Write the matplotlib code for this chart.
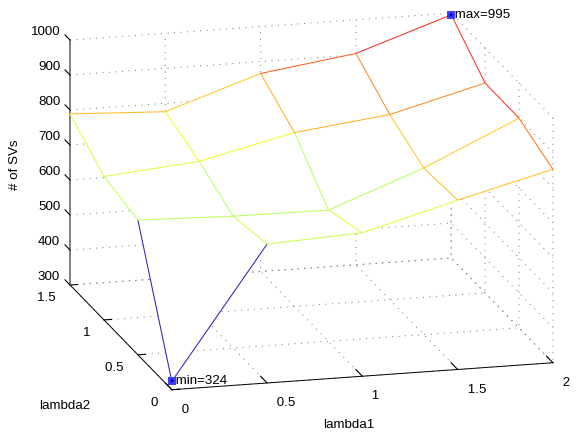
import numpy as np
import matplotlib
matplotlib.use('Agg')
from matplotlib import pyplot as plt
from mpl_toolkits.mplot3d.art3d import Line3DCollection

lambda1 = [0, 0.5, 1, 1.5, 2]
lambda2 = [0, 0.5, 1, 1.5]
# rows follow lambda2, columns follow lambda1
svs_row0 = [324, 697, 710, 784, 853]
svs_row1 = [685, 677, 675, 776, 899]
svs_row2 = [710, 734, 797, 829, 900]
svs_row3 = [789, 776, 866, 904, 995]
z_ticks = [300, 400, 500, 600, 700, 800, 900, 1000]

plt.rcParams['font.family'] = ['Liberation Sans', 'DejaVu Sans']
plt.rcParams['font.size'] = 9.6
plt.rcParams['grid.linestyle'] = (0, (1, 5.7))
plt.rcParams['grid.linewidth'] = 0.7
plt.rcParams['grid.color'] = '#707070'

X, Y = np.meshgrid(lambda1, lambda2)
Z = np.array([svs_row0, svs_row1, svs_row2, svs_row3], dtype=float)

fig = plt.figure(figsize=(5.88, 4.40), dpi=100)
w = 599 / 588
h = 599 / 440
ax = fig.add_axes([3.9 / 588, -69 / 440, w, h], projection='3d', proj_type='ortho')
ax.view_init(elev=15.66, azim=255.3)
ax.set_box_aspect((394, 401, 254.4))
ax.computed_zorder = False
ax.patch.set_alpha(0)

ax.set_xlim(0, 2)
ax.set_ylim(0, 1.5)
ax.set_zlim(300, 1000)
ax.set_xticks(lambda1)
ax.set_yticks(lambda2)
ax.set_zticks(z_ticks)
# the spaces only push the labels sideways, 3d tick labels have no x offset
ax.set_xticklabels([' 0', ' 0.5', ' 1', ' 1.5', ' 2'], ha='left', va='center')
ax.set_yticklabels(['0 ', '0.5 ', '1 ', '1.5 '], ha='right', va='top')
ax.set_zticklabels([str(t) for t in z_ticks], ha='right', va='bottom')

for axis in (ax.xaxis, ax.yaxis, ax.zaxis):
    axis.set_pane_color((1, 1, 1, 0))
    axis.pane.set_edgecolor('none')
    axis.line.set_color('black')
    axis.line.set_linewidth(0.7)
    axis._axinfo['tick']['inward_factor'] = 0
    axis.offsetText.set_visible(False)
ax.xaxis._axinfo['tick']['outward_factor'] = 0.8
ax.yaxis._axinfo['tick']['outward_factor'] = 0.25
ax.zaxis._axinfo['tick']['outward_factor'] = 0.62
# z ticks point along lambda2 like the original view
ax.zaxis._get_tickdir = lambda position: 1
ax.zaxis.line.set_color('#777777')
ax.zaxis.line.set_linewidth(1.3)

ax.tick_params(axis='x', width=0.6, pad=5)
ax.tick_params(axis='y', width=0.6, pad=-2)
ax.tick_params(axis='z', width=0.6, pad=-3.4)

# white faces hide the grid behind the mesh
ax.plot_surface(X, Y, Z, color='white', shade=False, linewidth=0,
                antialiased=False, zorder=1)

# every mesh segment takes the colour of its lower index corner
norm = plt.Normalize(300, 975)
cmap = plt.get_cmap('jet')
segs = []
cols = []
for i in range(Z.shape[0]):
    for j in range(Z.shape[1]):
        p = (X[i, j], Y[i, j], Z[i, j])
        if j + 1 < Z.shape[1]:
            segs.append([p, (X[i, j + 1], Y[i, j + 1], Z[i, j + 1])])
            cols.append(cmap(norm(Z[i, j])))
        if i + 1 < Z.shape[0]:
            segs.append([p, (X[i + 1, j], Y[i + 1, j], Z[i + 1, j])])
            cols.append(cmap(norm(Z[i, j])))
ax.add_collection3d(Line3DCollection(segs, colors=cols, linewidths=0.75, alpha=0.85, zorder=2))

imax = np.unravel_index(Z.argmax(), Z.shape)
imin = np.unravel_index(Z.argmin(), Z.shape)
for idx, lab in ((imax, 'max=%d' % Z.max()), (imin, 'min=%d' % Z.min())):
    x, y, z = X[idx], Y[idx], Z[idx]
    ax.plot([x], [y], [z], 's', color='#4040ff', ms=5.5, mew=0, zorder=3)
    ax.plot([x], [y], [z], '*', color='#0000c0', ms=4, mew=0, zorder=4)
    ax.text(x, y, z, ' ' + lab, ha='left', va='center', zorder=5)

fig.text(349 / 588, 1 - 425 / 440, 'lambda1', ha='center', va='center')
fig.text(65 / 588, 1 - 406 / 440, 'lambda2', ha='center', va='center')
fig.text(15 / 588, 1 - 165 / 440, '# of SVs', ha='center', va='center', rotation=90)

fig.savefig('out.png', dpi=100)
